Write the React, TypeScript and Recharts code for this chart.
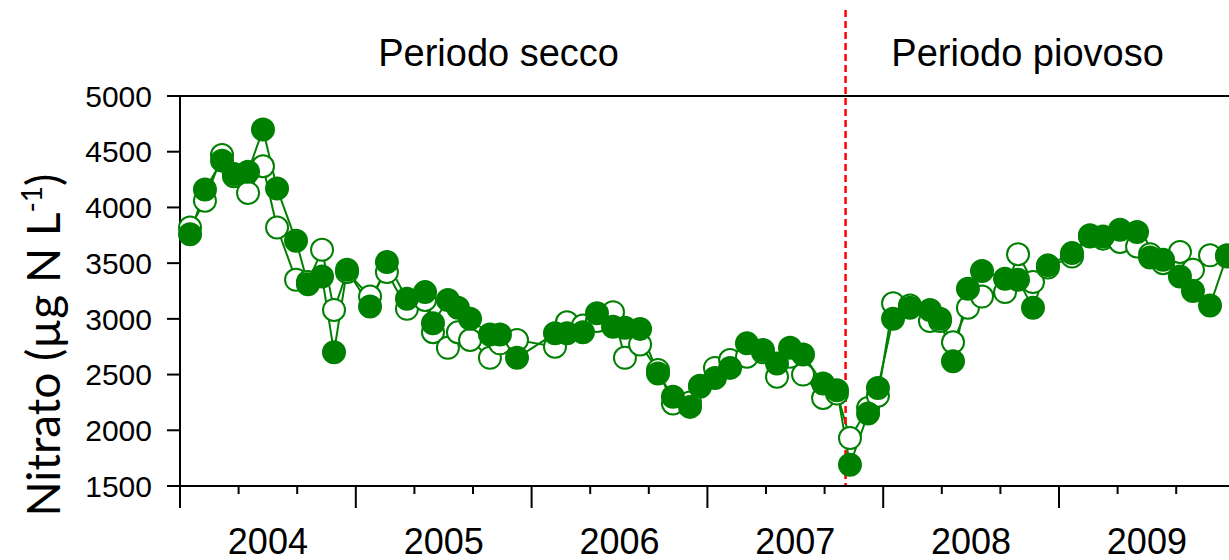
import { LineChart, Line, XAxis, YAxis, ReferenceLine } from 'recharts'

// campionamenti (anno decimale)
const dates = [
  2004.057, 2004.142, 2004.239, 2004.307, 2004.387, 2004.472, 2004.552, 2004.66, 2004.728, 2004.808,
  2004.876, 2004.95, 2005.081, 2005.177, 2005.291, 2005.394, 2005.439, 2005.524, 2005.581, 2005.65,
  2005.763, 2005.82, 2005.917, 2006.133, 2006.201, 2006.292, 2006.372, 2006.463, 2006.531, 2006.617,
  2006.719, 2006.804, 2006.901, 2006.958, 2007.043, 2007.129, 2007.225, 2007.316, 2007.396, 2007.47,
  2007.544, 2007.658, 2007.737, 2007.811, 2007.914, 2007.97, 2008.056, 2008.152, 2008.266, 2008.323,
  2008.397, 2008.482, 2008.562, 2008.693, 2008.767, 2008.852, 2008.937, 2009.074, 2009.176, 2009.25,
  2009.347, 2009.444, 2009.518, 2009.592, 2009.688, 2009.762, 2009.859, 2009.956,
]

// cerchi pieni
const nitrateFilled = [
  3760, 4160, 4420, 4300, 4320, 4700, 4170, 3700, 3310, 3380,
  2700, 3440, 3110, 3510, 3180, 3240, 2960, 3170, 3100, 3000,
  2860, 2860, 2650, 2870, 2870, 2880, 3050, 2930, 2920, 2910,
  2510, 2300, 2210, 2400, 2470, 2560, 2780, 2720, 2600, 2740,
  2680, 2420, 2360, 1690, 2150, 2380, 3000, 3100, 3080, 3000,
  2620, 3270, 3430, 3360, 3350, 3100, 3480, 3590, 3750, 3740,
  3800, 3780, 3550, 3530, 3380, 3250, 3120, 3570,
]

// cerchi vuoti
const nitrateOpen = [
  3820, 4060, 4470, 4280, 4130, 4370, 3820, 3350, 3330, 3620,
  3080, 3420, 3200, 3420, 3090, 3170, 2880, 2740, 2880, 2810,
  2650, 2780, 2810, 2750, 2970, 2940, 2980, 3060, 2650, 2770,
  2540, 2240, 2250, 2390, 2560, 2630, 2660, 2700, 2480, 2660,
  2500, 2290, 2330, 1930, 2200, 2310, 3140, 3120, 2980, 2980,
  2790, 3100, 3200, 3240, 3580, 3330, 3460, 3560, 3740, 3720,
  3690, 3650, 3580, 3500, 3600, 3440, 3570, 3560,
]

const years = [2004, 2005, 2006, 2007, 2008, 2009]
const yTicks = [1500, 2000, 2500, 3000, 3500, 4000, 4500, 5000]
const periodSplit = 2007.786

const data = dates.map((t, i) => ({ t, filled: nitrateFilled[i], open: nitrateOpen[i] }))

const xTicks = years.flatMap((y) => [y, y + 1 / 3, y + 0.5, y + 2 / 3])

const GREEN = '#008000'
const FONT = '"Liberation Sans", Arial, sans-serif'

function YearTick(props: any) {
  const { x, y, payload } = props
  const v = payload.value as number
  const frac = v - Math.floor(v)
  if (Math.abs(frac - 0.5) < 1e-6) {
    return (
      <text x={x} y={y + 68} textAnchor="middle" fontSize={36} fontFamily={FONT} fill="#000">
        {Math.floor(v)}
      </text>
    )
  }
  const len = frac < 1e-6 ? 22 : 8
  return <line x1={x} x2={x} y1={y} y2={y + len} stroke="#000" strokeWidth={2} />
}

function SplitLine(props: any) {
  const { x1, y1, x2, y2 } = props
  const top = Math.min(y1, y2) - 86
  const bottom = Math.max(y1, y2)
  return <line x1={x1} x2={x2} y1={top} y2={bottom} stroke="#ff0000" strokeWidth={2.5} strokeDasharray="7 4" />
}

function PeriodLabels(props: any) {
  const x = props.viewBox.x
  return (
    <g fontFamily={FONT} fontSize={38} fill="#000">
      <text x={x - 347} y={66} textAnchor="middle">Periodo secco</text>
      <text x={x + 182} y={66} textAnchor="middle">Periodo piovoso</text>
    </g>
  )
}

function YLabel() {
  return (
    <text
      x={60}
      y={345}
      transform="rotate(-90, 60, 345)"
      textAnchor="middle"
      fontFamily="Lato, 'Open Sans', sans-serif"
      fontSize={46}
      fill="#000"
    >
      Nitrato (µg N L<tspan dy={-18} fontSize={28}>-1</tspan>
      <tspan dy={18}>)</tspan>
    </text>
  )
}

export default function App() {
  return (
    <div style={{ position: 'absolute', left: 0, top: 0, width: 1229, height: 560, background: '#fff' }}>
      <LineChart width={1229} height={560} data={data} margin={{ top: 96, right: 0, bottom: 0, left: 0 }}>
        <XAxis
          type="number"
          dataKey="t"
          domain={[2004, 2009.967]}
          ticks={xTicks}
          interval={0}
          tick={<YearTick />}
          tickSize={0}
          tickMargin={0}
          height={74}
          axisLine={{ stroke: '#000', strokeWidth: 2 }}
        />
        <YAxis
          type="number"
          domain={[1500, 5000]}
          ticks={yTicks}
          interval={0}
          width={180}
          tickSize={13}
          tickMargin={15}
          tick={{ fill: '#000', fontSize: 30, fontFamily: FONT }}
          tickLine={{ stroke: '#000', strokeWidth: 2 }}
          axisLine={{ stroke: '#000', strokeWidth: 2 }}
          label={<YLabel />}
        />
        <ReferenceLine y={5000} stroke="#000" strokeWidth={2} />
        <Line
          dataKey="open"
          type="linear"
          stroke={GREEN}
          strokeWidth={2}
          dot={{ r: 11, fill: '#fff', stroke: GREEN, strokeWidth: 2 }}
          activeDot={false}
          isAnimationActive={false}
        />
        <Line
          dataKey="filled"
          type="linear"
          stroke={GREEN}
          strokeWidth={2}
          dot={{ r: 11, fill: GREEN, stroke: GREEN, strokeWidth: 2 }}
          activeDot={false}
          isAnimationActive={false}
        />
        <ReferenceLine x={periodSplit} shape={<SplitLine />} label={<PeriodLabels />} />
      </LineChart>
    </div>
  )
}
